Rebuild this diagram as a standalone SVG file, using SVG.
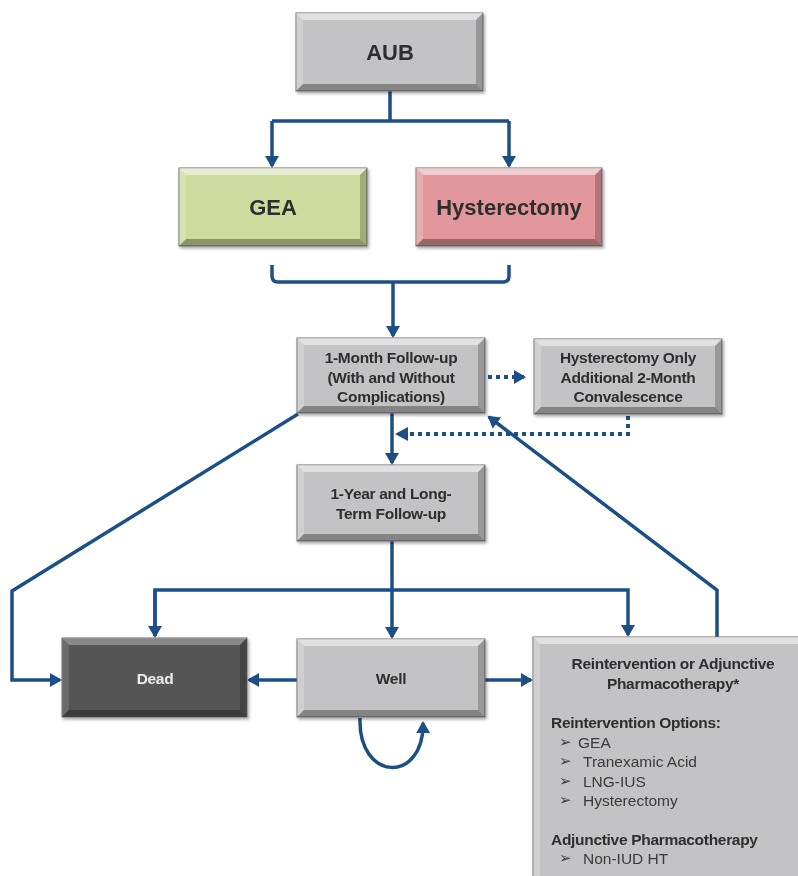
<svg xmlns="http://www.w3.org/2000/svg" width="798" height="876" viewBox="0 0 798 876">
<defs>
<marker id="ah" markerWidth="16" markerHeight="16" refX="10" refY="8" orient="auto" markerUnits="userSpaceOnUse"><path d="M0,1 L12,8 L0,15 z" fill="#1b4f86"/></marker>
<filter id="sh" x="-5%" y="-5%" width="115%" height="120%"><feDropShadow dx="1.5" dy="2" stdDeviation="1.5" flood-color="#000" flood-opacity="0.35"/></filter>
</defs>
<style>
.base{stroke:#6f6f6f;stroke-width:1}
.g{fill:#c3c3c5}.gr{fill:#cddc9e}.pk{fill:#e2979c}.dk{fill:#565656}
.bt{fill:#fff;opacity:.5}.bl{fill:#fff;opacity:.22}.br{fill:#000;opacity:.22}.bb{fill:#000;opacity:.32}
.t{font-family:"Liberation Sans",Arial,sans-serif;font-weight:bold;fill:#2e2e2e;text-anchor:middle;dominant-baseline:central}
.big{font-size:22px}.mid{font-size:15.5px;letter-spacing:-0.3px}
.n{font-family:"Liberation Sans",Arial,sans-serif;fill:#3a3a3a;font-size:15.5px;dominant-baseline:central}
.bu{font-family:"DejaVu Sans",sans-serif;fill:#3a3a3a;font-size:15px;font-weight:bold;dominant-baseline:central}
.c{fill:none;stroke:#1b4f86;stroke-width:3.5}
.d{fill:none;stroke:#1b4f86;stroke-width:4;stroke-dasharray:4 4}
</style>

<g id="connectors">
<path class="c" d="M390,91 V121 M272,121 H509" />
<path class="c" d="M272,121 V166" marker-end="url(#ah)"/>
<path class="c" d="M509,121 V166" marker-end="url(#ah)"/>
<path class="c" d="M272,265 V276 Q272,282 278,282 H503 Q509,282 509,276 V265"/>
<path class="c" d="M393,282 V336" marker-end="url(#ah)"/>
<path class="d" d="M488,377 H524" marker-end="url(#ah)"/>
<path class="d" d="M628,416 V434 H406"/>
<path d="M395,434 L408,427 L408,441 z" fill="#1b4f86"/>
<path class="c" d="M392,413 V463" marker-end="url(#ah)"/>
<path class="c" d="M392,541 V637" marker-end="url(#ah)"/>
<path class="c" d="M155,636 V590 H628 V635" marker-end="url(#ah)"/>
<path class="c" d="M155,590 V636" marker-end="url(#ah)"/>
<path class="c" d="M298,414 L12,591 V680 H60" marker-end="url(#ah)"/>
<path class="c" d="M297,680 H249" marker-end="url(#ah)"/>
<path class="c" d="M485,680 H531" marker-end="url(#ah)"/>
<path class="c" d="M717,637 V590 L489,417" marker-end="url(#ah)"/>
<path class="c" d="M360,718 C358,782 424,784 423,723" marker-end="url(#ah)"/>
</g>

<g id="aub" filter="url(#sh)">
<rect class="base g" x="296" y="13" width="187" height="78"/>
<polygon class="bt" points="296,13 483,13 476,20 303,20"/>
<polygon class="bl" points="296,13 303,20 303,84 296,91"/>
<polygon class="br" points="483,13 483,91 476,84 476,20"/>
<polygon class="bb" points="296,91 483,91 476,84 303,84"/>
<text class="t big" x="390" y="52">AUB</text>
</g>

<g id="gea" filter="url(#sh)">
<rect class="base gr" x="179" y="168" width="188" height="78"/>
<polygon class="bt" points="179,168 367,168 360,175 186,175"/>
<polygon class="bl" points="179,168 186,175 186,239 179,246"/>
<polygon class="br" points="367,168 367,246 360,239 360,175"/>
<polygon class="bb" points="179,246 367,246 360,239 186,239"/>
<text class="t big" x="273" y="207">GEA</text>
</g>

<g id="hysterectomy" filter="url(#sh)">
<rect class="base pk" x="416" y="168" width="186" height="78"/>
<polygon class="bt" points="416,168 602,168 595,175 423,175"/>
<polygon class="bl" points="416,168 423,175 423,239 416,246"/>
<polygon class="br" points="602,168 602,246 595,239 595,175"/>
<polygon class="bb" points="416,246 602,246 595,239 423,239"/>
<text class="t big" x="509" y="207">Hysterectomy</text>
</g>

<g id="month1" filter="url(#sh)">
<rect class="base g" x="297" y="338" width="188" height="75"/>
<polygon class="bt" points="297,338 485,338 478,345 304,345"/>
<polygon class="bl" points="297,338 304,345 304,406 297,413"/>
<polygon class="br" points="485,338 485,413 478,406 478,345"/>
<polygon class="bb" points="297,413 485,413 478,406 304,406"/>
<text class="t mid" x="391" y="357">1-Month Follow-up</text>
<text class="t mid" x="391" y="377">(With and Without</text>
<text class="t mid" x="391" y="396">Complications)</text>
</g>

<g id="hystonly" filter="url(#sh)">
<rect class="base g" x="534" y="339" width="188" height="75"/>
<polygon class="bt" points="534,339 722,339 715,346 541,346"/>
<polygon class="bl" points="534,339 541,346 541,407 534,414"/>
<polygon class="br" points="722,339 722,414 715,407 715,346"/>
<polygon class="bb" points="534,414 722,414 715,407 541,407"/>
<text class="t mid" x="628" y="357">Hysterectomy Only</text>
<text class="t mid" x="628" y="377">Additional 2-Month</text>
<text class="t mid" x="628" y="396">Convalescence</text>
</g>

<g id="year1" filter="url(#sh)">
<rect class="base g" x="297" y="465" width="188" height="76"/>
<polygon class="bt" points="297,465 485,465 478,472 304,472"/>
<polygon class="bl" points="297,465 304,472 304,534 297,541"/>
<polygon class="br" points="485,465 485,541 478,534 478,472"/>
<polygon class="bb" points="297,541 485,541 478,534 304,534"/>
<text class="t mid" x="391" y="493">1-Year and Long-</text>
<text class="t mid" x="391" y="513">Term Follow-up</text>
</g>

<g id="dead" filter="url(#sh)">
<rect class="base dk" x="62" y="638" width="185" height="79"/>
<polygon class="bt" points="62,638 247,638 240,645 69,645" style="opacity:.3"/>
<polygon class="bl" points="62,638 69,645 69,710 62,717" style="opacity:.12"/>
<polygon class="br" points="247,638 247,717 240,710 240,645"/>
<polygon class="bb" points="62,717 247,717 240,710 69,710"/>
<text class="t mid" x="155" y="678" style="fill:#ececec">Dead</text>
</g>

<g id="well" filter="url(#sh)">
<rect class="base g" x="297" y="639" width="188" height="78"/>
<polygon class="bt" points="297,639 485,639 478,646 304,646"/>
<polygon class="bl" points="297,639 304,646 304,710 297,717"/>
<polygon class="br" points="485,639 485,717 478,710 478,646"/>
<polygon class="bb" points="297,717 485,717 478,710 304,710"/>
<text class="t mid" x="391" y="678">Well</text>
</g>

<g id="reintervention" filter="url(#sh)">
<rect class="base g" x="533" y="637" width="290" height="260"/>
<polygon class="bt" points="533,637 823,637 816,644 540,644"/>
<polygon class="bl" points="533,637 540,644 540,897 533,897"/>
<text class="t mid" x="673" y="663">Reintervention or Adjunctive</text>
<text class="t mid" x="673" y="683">Pharmacotherapy*</text>
<text class="t mid" x="551" y="722" style="text-anchor:start">Reintervention Options:</text>
<text class="bu" x="559" y="742">➢</text><text class="n" x="578" y="742">GEA</text>
<text class="bu" x="559" y="761">➢</text><text class="n" x="583" y="761">Tranexamic Acid</text>
<text class="bu" x="559" y="781">➢</text><text class="n" x="583" y="781">LNG-IUS</text>
<text class="bu" x="559" y="800">➢</text><text class="n" x="583" y="800">Hysterectomy</text>
<text class="t mid" x="551" y="839" style="text-anchor:start">Adjunctive Pharmacotherapy</text>
<text class="bu" x="559" y="858">➢</text><text class="n" x="583" y="858">Non-IUD HT</text>
</g>
</svg>
